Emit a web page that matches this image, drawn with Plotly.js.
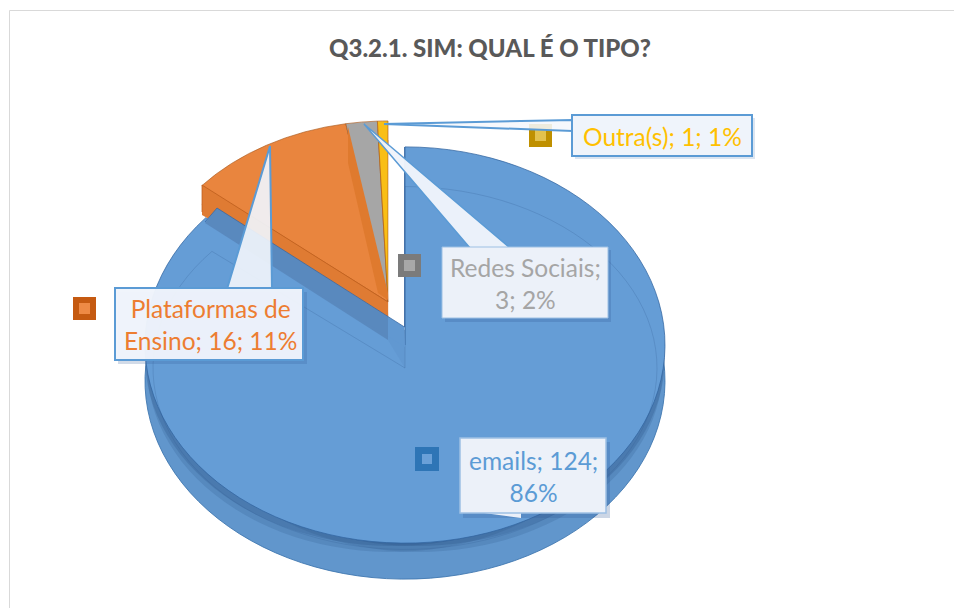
<!DOCTYPE html>
<html>
<head>
<meta charset="utf-8">
<script src="https://cdn.plot.ly/plotly-3.0.1.min.js"></script>
<style>html,body{margin:0;padding:0;background:#fff;overflow:hidden}#chart{width:954px;height:608px}</style>
</head>
<body>
<div id="chart"></div>
<script>
var categories = ['emails', 'Plataformas de Ensino', 'Redes Sociais', 'Outra(s)'];
var values = [124, 16, 3, 1];
var percents = [86, 11, 2, 1];
var seriesColors = ['#659DD6', '#E9853E', '#A6A6A6', '#F9BE16'];
var rimColors = ['#6196CC', '#DF7B33', '#8E8E8E', '#D9A40F'];
var labelColors = ['#5B9BD5', '#ED7D31', '#A5A5A5', '#FFC000'];
var keyOuter = ['#2E75B6', '#C55A11', '#7B7B7B', '#BF9000'];
var keyInner = ['#6AA0D8', '#EE8A45', '#A8A8A8', '#E3C24E'];
var labelLines = ['emails; 124;<br>86%', 'Plataformas de<br>Ensino; 16; 11%', 'Redes Sociais;<br>3; 2%', 'Outra(s); 1; 1%'];

var W = 954, H = 608, CX = 477, CY = 304;
var NONE = 'rgba(0,0,0,0)';

// each layer is a real pie: placed at (cx, cy), radius r, flattened by s
var layers = [
  {show: [0], cx: 405, cy: 381, r: 260, s: 0.762, fill: rimColors, line: '#3F76AF', lw: 1},
  {show: [0], cx: 391, cy: 366, r: 244, s: 0.762, fill: ['rgba(40,80,130,0.18)'], line: NONE, lw: 0},
  {show: [0], cx: 419, cy: 366, r: 244, s: 0.762, fill: ['rgba(40,80,130,0.18)'], line: NONE, lw: 0},
  {show: [0], cx: 393, cy: 357, r: 248, s: 0.762, fill: ['rgba(40,80,130,0.25)'], line: NONE, lw: 0},
  {show: [0], cx: 417, cy: 357, r: 248, s: 0.762, fill: ['rgba(40,80,130,0.25)'], line: NONE, lw: 0},
  {show: [1, 2, 3], cx: 388, cy: 320, r: 243, s: 0.74, fill: rimColors, line: 'rgba(190,95,30,0.6)', lw: 1},
  {show: [1, 2, 3], cx: 388, cy: 302, r: 243, s: 0.745, fill: seriesColors, line: 'rgba(170,90,30,0.75)', lw: 1},
  {show: [0], cx: 405, cy: 345, r: 260, s: 0.762, fill: seriesColors, line: 'rgba(50,100,160,0.85)', lw: 1},
  {show: [0], cx: 405, cy: 368, r: 252, s: 0.72, fill: [NONE], line: 'rgba(50,90,145,0.28)', lw: 1}
];

var data = layers.map(function (l) {
  return {
    type: 'pie', sort: false, direction: 'clockwise', rotation: 0,
    labels: categories, values: values, textinfo: 'none', hoverinfo: 'label+value+percent',
    showlegend: false,
    domain: {x: [(CX - l.r) / W, (CX + l.r) / W], y: [(CY - l.r) / H, (CY + l.r) / H]},
    marker: {
      colors: categories.map(function (c, i) {
        return l.show.indexOf(i) < 0 ? NONE : (l.fill.length > 1 ? l.fill[i] : l.fill[0]);
      }),
      line: {
        color: categories.map(function (c, i) { return l.show.indexOf(i) < 0 ? NONE : l.line; }),
        width: categories.map(function (c, i) { return l.show.indexOf(i) < 0 ? 0 : l.lw; })
      }
    }
  };
});

function poly(pts, fill, line, lw) {
  return {
    type: 'path', xref: 'paper', yref: 'paper', layer: 'above',
    path: 'M' + pts.map(function (p) { return (p[0] / W) + ',' + (1 - p[1] / H); }).join('L') + 'Z',
    fillcolor: fill, line: {color: line || NONE, width: lw || 0}
  };
}
function rect(x0, y0, x1, y1, fill, line, lw) {
  return poly([[x0, y0], [x1, y0], [x1, y1], [x0, y1]], fill, line, lw);
}
function hline(x0, y0, x1, y1, c, w) {
  return {type: 'line', xref: 'paper', yref: 'paper', layer: 'above',
    x0: x0 / W, x1: x1 / W, y0: 1 - y0 / H, y1: 1 - y1 / H, line: {color: c, width: w}};
}

var BLUE = '#5B9BD5';
var boxFill = 'rgba(240,244,251,0.97)';
var shapes = [
  // chart frame
  hline(9.5, 10.5, 954, 10.5, '#D9D9D9', 1),
  hline(9.5, 10.5, 9.5, 608, '#D9D9D9', 1),
  // gap left by the exploded sector
  poly([[388.5, 150], [404.5, 150], [404.5, 330], [388.5, 320]], '#FFFFFF'),
  // cut faces of the exploded sector
  poly([[202, 185], [388, 302], [388, 322], [202, 215]], rimColors[1]),
  hline(202, 185, 388, 302, 'rgba(190,95,30,0.75)', 1),
  hline(202, 185, 202, 212, 'rgba(190,95,30,0.75)', 1),
  poly([[348, 127], [348, 163], [378, 293], [388, 300], [388, 293]], '#DF7A2E'),
  poly([[217, 208], [404.5, 327], [405, 347], [205, 222]], seriesColors[0]),
  hline(217, 208, 404.5, 327, 'rgba(50,100,160,0.7)', 1),
  hline(217, 208, 205, 222, 'rgba(50,100,160,0.7)', 1),
  poly([[217, 208], [205, 223], [388, 340], [388, 317]], 'rgba(70,100,145,0.35)'),
  poly([[388, 317], [404.5, 327], [405, 368], [388, 340]], 'rgba(70,110,170,0.10)'),
  hline(404.5, 147, 404.5, 327, 'rgba(50,100,160,0.85)', 1),
  // legend keys
  rect(73, 297, 96, 320, keyOuter[1]), rect(79, 303, 90, 314, keyInner[1]),
  rect(415, 447, 439, 471, keyOuter[0]), rect(422, 454, 432, 464, keyInner[0]),
  rect(398, 254, 421, 277, keyOuter[2]), rect(404, 260, 415, 271, keyInner[2]),
  rect(529, 124, 552, 147, keyOuter[3]), rect(535, 130, 546, 141, keyInner[3]),
  // callout: Outra(s)
  poly([[384, 124], [572, 120], [572, 131]], 'rgba(245,247,252,0.88)', BLUE, 2),
  rect(575, 118, 755, 159, 'rgba(90,135,190,0.22)'),
  rect(572, 115, 752, 156, boxFill, BLUE, 2),
  // callout: Redes Sociais
  rect(445, 250, 611, 322, 'rgba(50,90,150,0.25)'),
  poly([[364, 124], [470, 248], [510, 248]], boxFill, BLUE, 1.5),
  rect(442, 247, 608, 318, '#ECF1F9', '#9DC0E4', 1),
  // callout: Plataformas de Ensino
  rect(118, 292, 307, 364, 'rgba(50,90,150,0.22)'),
  poly([[270, 146], [227, 289], [272, 289]], 'rgba(240,244,251,0.92)', BLUE, 2),
  rect(115, 288, 303, 360, boxFill, BLUE, 2),
  // callout: emails
  rect(463, 442, 610, 518, 'rgba(50,90,150,0.25)'),
  poly([[484, 513], [521, 518], [521, 513]], boxFill),
  rect(460, 438, 606, 513, '#ECF1F9', '#9DC0E4', 1.5)
];

function label(i, x, y) {
  return {xref: 'paper', yref: 'paper', x: x / W, y: 1 - y / H, xanchor: 'center', yanchor: 'middle',
    text: labelLines[i], showarrow: false, align: 'center',
    font: {family: 'Lato, Carlito, sans-serif', size: 24.5, color: labelColors[i]}};
}

var layout = {
  width: W, height: H, margin: {l: 0, r: 0, t: 0, b: 0, pad: 0, autoexpand: false},
  paper_bgcolor: '#fff', plot_bgcolor: '#fff', showlegend: false,
  title: {text: 'Q3.2.1. SIM: QUAL É O TIPO?', x: 490 / W, xanchor: 'center', y: 1 - 49 / H, yanchor: 'middle',
    font: {family: 'Lato, sans-serif', size: 24, color: '#595959', weight: 900}},
  shapes: shapes,
  annotations: [label(0, 533, 476), label(1, 210, 324), label(2, 525, 283), label(3, 662, 136)]
};

function squash() {
  var traces = document.querySelectorAll('#chart .pielayer .trace');
  layers.forEach(function (l, i) {
    if (traces[i]) traces[i].setAttribute('transform',
      'translate(' + l.cx + ',' + l.cy + ') scale(1,' + l.s + ') translate(' + (-CX) + ',' + (-CY) + ')');
  });
}
var gd = document.getElementById('chart');
Plotly.newPlot(gd, data, layout, {displayModeBar: false, staticPlot: true}).then(function () {
  squash();
  gd.on('plotly_afterplot', squash);
});
</script>
</body>
</html>
